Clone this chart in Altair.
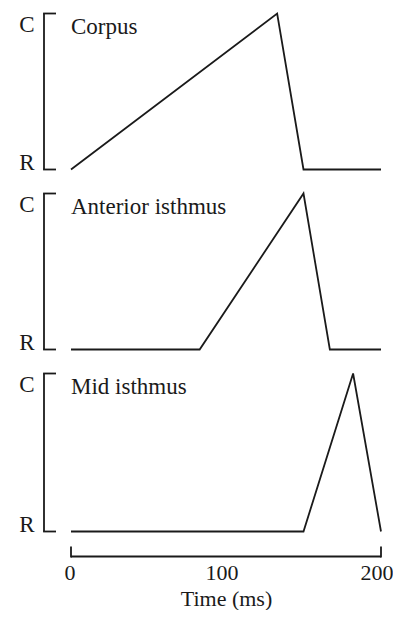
import altair as alt
import pandas as pd

# Data (time in ms; level 0 = R, 1 = C)
corpus_t = [0, 133, 150, 200]
corpus_v = [0, 1, 0, 0]
anterior_t = [0, 83, 150, 167, 200]
anterior_v = [0, 0, 1, 0, 0]
mid_t = [0, 150, 182, 200]
mid_v = [0, 0, 1, 0]
panel_names = ["Corpus", "Anterior isthmus", "Mid isthmus"]
x_ticks = [0, 100, 200]
y_levels = [0, 1]

FONT = "Liberation Serif"
FS = 23
XFS = 22
INK = "#1a1a1a"
W = 310
SW = 1.8


def panel(ts, vs, name, h, bottom):
    df = pd.DataFrame({"t": ts, "v": vs})
    one = pd.DataFrame({"name": [name]})
    if bottom:
        xaxis = alt.Axis(values=x_ticks, domain=False, ticks=False, tickSize=0,
                         labelPadding=31, labelFlush=False,
                         labelOffset={"condition": {"test": "datum.value == 0", "value": -1.5},
                                      "value": -4.5},
                         labelFont=FONT, labelFontSize=XFS,
                         labelColor=INK, title="Time (ms)", titleFont=FONT,
                         titleFontSize=22, titleFontWeight="normal",
                         titleColor=INK, titlePadding=5, grid=False)
    else:
        xaxis = None
    x = alt.X("t:Q", scale=alt.Scale(domain=[0, 200]), axis=xaxis)
    y = alt.Y("v:Q", scale=alt.Scale(domain=[0, 1]),
              axis=alt.Axis(values=y_levels, labelExpr="datum.value == 0 ? 'R' : 'C'",
                            labelBaseline={"condition": {"test": "datum.value == 1", "value": "top"},
                                           "value": "alphabetic"},
                            domain=False, ticks=False, tickSize=0, grid=False,
                            labelPadding=37, labelFont=FONT, labelFontSize=FS,
                            labelColor=INK, title=None))
    line = alt.Chart(df).mark_line(color=INK, strokeWidth=SW).encode(x=x, y=y)
    base = alt.Chart(one)
    vbar = base.mark_rule(color=INK, strokeWidth=SW).encode(
        x=alt.value(-27), y=alt.datum(0), y2=alt.datum(1))
    tick_lo = base.mark_rule(color=INK, strokeWidth=SW).encode(
        x=alt.value(-27.9), x2=alt.value(-15), y=alt.datum(0))
    tick_hi = base.mark_rule(color=INK, strokeWidth=SW).encode(
        x=alt.value(-27.9), x2=alt.value(-15), y=alt.datum(1))
    label = base.mark_text(font=FONT, fontSize=FS, color=INK, align="left",
                           baseline="alphabetic", fontWeight="normal").encode(
        x=alt.value(0), y=alt.value(20), text="name:N")
    layers = [line, vbar, tick_lo, tick_hi, label]
    if bottom:
        hbar = base.mark_rule(color=INK, strokeWidth=SW).encode(
            x=alt.datum(0), x2=alt.datum(200), y=alt.value(h + 25))
        t0 = base.mark_rule(color=INK, strokeWidth=SW).encode(
            x=alt.datum(0), y=alt.value(h + 15), y2=alt.value(h + 25.9))
        t2 = base.mark_rule(color=INK, strokeWidth=SW).encode(
            x=alt.datum(200), y=alt.value(h + 15), y2=alt.value(h + 25.9))
        layers += [hbar, t0, t2]
    return alt.layer(*layers).properties(width=W, height=h)


chart = alt.vconcat(
    panel(corpus_t, corpus_v, panel_names[0], 156, False),
    panel(anterior_t, anterior_v, panel_names[1], 156, False),
    panel(mid_t, mid_v, panel_names[2], 158, True),
    spacing=24,
    bounds="flush",
).properties(
    padding={"left": 10, "top": 1.5, "right": 0, "bottom": 0}
).configure_view(stroke=None)

chart.save("out.html", embed_options={"renderer": "svg", "actions": False})
